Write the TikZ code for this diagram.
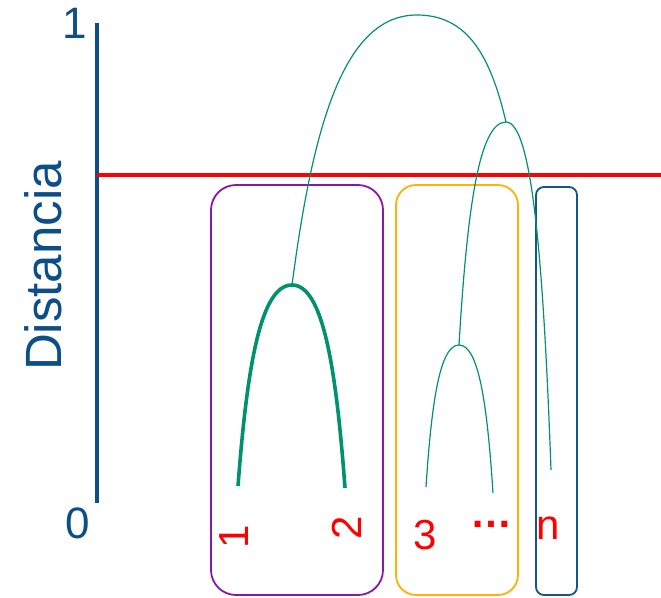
\documentclass[tikz,border=0pt]{standalone}
\usepackage{fontspec}
\setmainfont{Liberation Sans}
\usetikzlibrary{calc}
\definecolor{azulEje}{RGB}{12,78,136}
\definecolor{verde}{RGB}{0,146,108}
\definecolor{morado}{RGB}{140,22,170}
\definecolor{naranja}{RGB}{255,176,10}
\definecolor{azulCaja}{RGB}{22,84,140}
\tikzset{
	rama/.style={draw=verde,line width=1.2pt},
	caja/.style={line width=1.8pt},
	hoja/.style={text=red,inner sep=0pt,font=\fontsize{42}{42}\selectfont},
	ejetxt/.style={text=azulEje,inner sep=0pt,font=\fontsize{44}{44}\selectfont}
}
% arco de union: extremo izquierdo, cima, extremo derecho
\newcommand{\union}[4][]{%
	\draw[rama,#1] let \p1=(#2), \p2=(#3), \p3=(#4) in
		(\p1) .. controls ({\x1+0.17*(\x2-\x1)},{\y1+0.6*(\y2-\y1)}) and ({\x2-0.58*(\x2-\x1)},\y2) .. (\p2)
		.. controls ({\x2+0.58*(\x3-\x2)},\y2) and ({\x3-0.17*(\x3-\x2)},{\y3+0.6*(\y2-\y3)}) .. (\p3);}
\begin{document}
\begin{tikzpicture}[x=1pt,y=-1pt]
		\useasboundingbox (0,0) rectangle (661,597);
		% eje de distancias
		\coordinate (ejeArriba) at (97,23);
		\coordinate (ejeAbajo) at (97,503);
		\draw[azulEje,line width=4pt] (ejeArriba) -- (ejeAbajo);
		\node[ejetxt] (uno) at (75,23) {1};
		\node[ejetxt] (cero) at (78,523) {0};
		\node[ejetxt,rotate=90,font=\fontsize{51}{51}\selectfont] (dist) at (43,266) {Distancia};
		% corte
		\coordinate (corteIzq) at (97,175);
		\coordinate (corteDer) at (661,175);
		\draw[red,line width=3.8pt] (corteIzq) -- (corteDer);
		% grupos
		\draw[caja,morado,rounded corners=25pt] (211,185) rectangle (383,595);
		\draw[caja,naranja,rounded corners=20pt] (396,185) rectangle (518,595);
		\draw[caja,azulCaja,rounded corners=8pt] (536,187) rectangle (577,595);
		% hojas
		\coordinate (h1) at (238,486);
		\coordinate (h2) at (345,488);
		\coordinate (h3) at (426,487);
		\coordinate (h4) at (493,493);
		\coordinate (hn) at (551,470);
		\node[hoja,rotate=90] (e1) at (234,537) {1};
		\node[hoja,rotate=90] (e2) at (347,528) {2};
		\node[hoja] (e3) at (425,535) {3};
		\node[hoja] (e4) at (491,531) {\raisebox{0.32em}{\textbf{…}}};
		\node[hoja] (en) at (548,528) {n};
		% uniones
		\coordinate (m12) at (292,285);
		\coordinate (m34) at (459,345);
		\coordinate (m3n) at (506,122);
		\coordinate (mtot) at (417,15);
		\union[line width=3.6pt]{h1}{m12}{h2}
		\union{h3}{m34}{h4}
		\union{m34}{m3n}{hn}
		\union{m12}{mtot}{m3n}
	\end{tikzpicture}
\end{document}
